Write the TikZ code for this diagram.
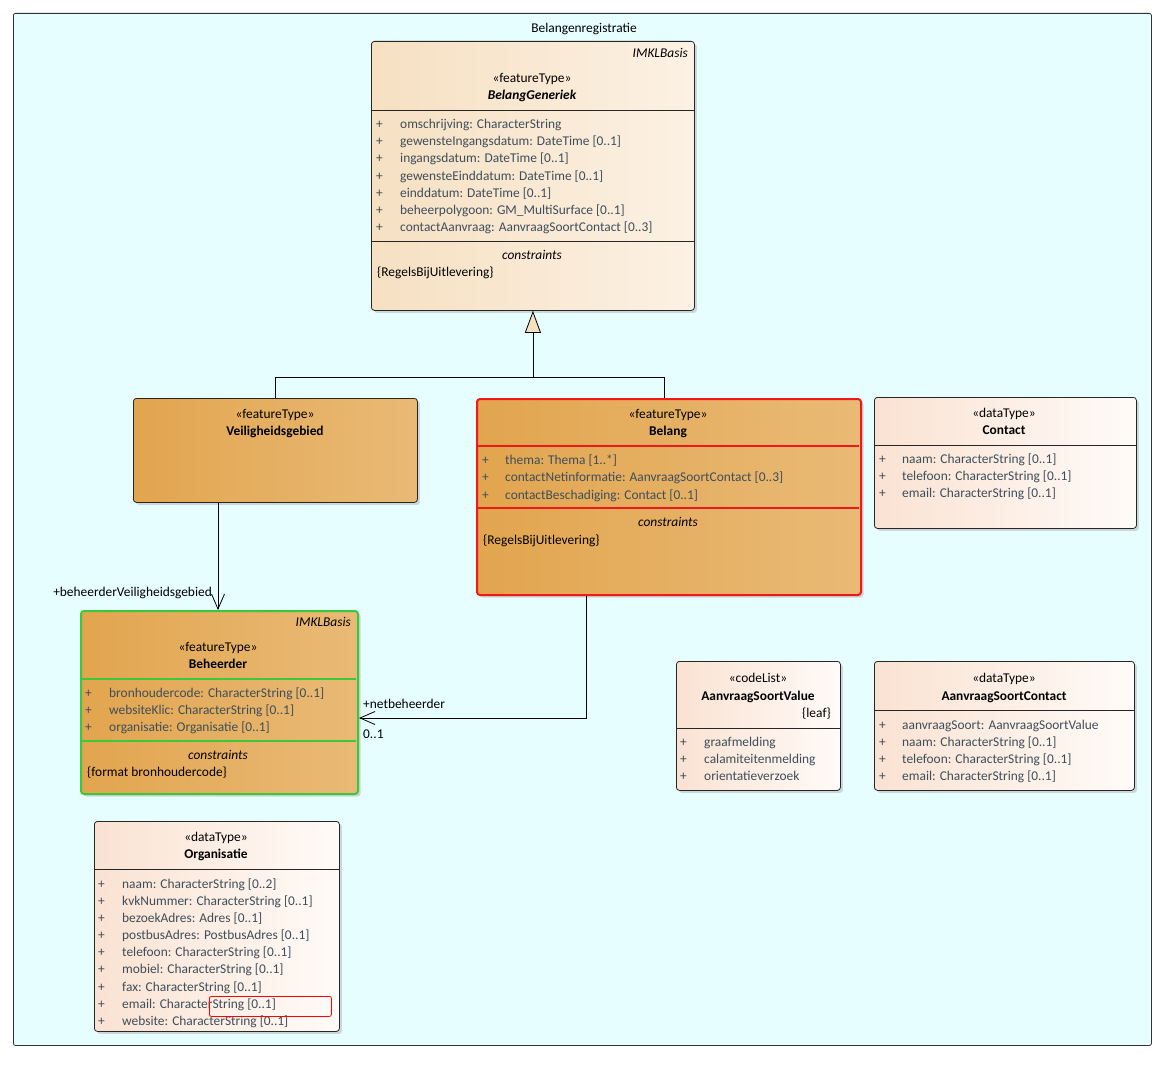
\documentclass[tikz,border=0pt]{standalone}
\usepackage{fontspec}
\setmainfont{Carlito}
\usetikzlibrary{arrows.meta,shadows,calc}
\definecolor{frameC}{HTML}{E6FEFF}
\definecolor{pchL}{HTML}{F6E0C2}
\definecolor{pchR}{HTML}{FCF1E4}
\definecolor{orL}{HTML}{E2A54F}
\definecolor{orR}{HTML}{E9BA76}
\definecolor{dtL}{HTML}{FAE2D2}
\definecolor{dtR}{HTML}{FFFBF8}
\definecolor{attrc}{HTML}{3D4E5A}
\definecolor{redB}{HTML}{F01818}
\definecolor{greenB}{HTML}{3CC83C}
\newcommand\fs{\fontsize{13.4}{15}\selectfont}
\begin{document}
\begin{tikzpicture}[x=1pt,y=-1pt,
  umlbox/.style={draw=black!85, rounded corners=3pt, line width=0.8pt, anchor=north west, inner sep=0pt,
    drop shadow={shadow xshift=2.5pt,shadow yshift=-2.5pt,fill=black!30,opacity=0.5}},
  peach/.style={left color=pchL, right color=pchR},
  orange/.style={left color=orL, right color=orR},
  dtype/.style={left color=dtL, right color=dtR},
  txt/.style={inner sep=0pt, font=\fs, text height=1.6ex, text depth=.35ex, yshift=-1.5pt},
  attr/.style={txt, anchor=west, text=attrc},
  ster/.style={txt, anchor=center},
  cname/.style={txt, anchor=center, font=\fs\bfseries},
  lbl/.style={txt, text=black},
  sep/.style={line width=0.8pt, draw=black!85},
  conn/.style={line width=0.8pt, draw=black},
  openarr/.style={-{Straight Barb[length=15pt,width=13pt,line width=0.8pt]}}
]
\useasboundingbox (0,0) rectangle (1169,1065);
% frame
\node[draw=black!80, fill=frameC, rounded corners=2pt, line width=0.8pt, anchor=north west, inner sep=0pt,
  minimum width=1138pt, minimum height=1032pt] (frame) at (13,13) {};
\node[lbl, anchor=center] (title) at (584,28) {Belangenregistratie};

% BelangGeneriek
\node[umlbox, peach, minimum width=323pt, minimum height=269pt] (bg) at (371,41) {};
\draw[sep] (371,110) -- (694,110);
\draw[sep] (371,241) -- (694,241);
\node[txt, anchor=east, font=\fs\itshape] (bgpkg) at (688,53) {IMKLBasis};
\node[ster] (bgst) at (532,78) {«featureType»};
\node[cname, font=\fs\bfseries\itshape] (bgnm) at (532,95) {BelangGeneriek};
\foreach \t [count=\i from 0] in {omschrijving: CharacterString, gewensteIngangsdatum: DateTime [0..1], ingangsdatum: DateTime [0..1], gewensteEinddatum: DateTime [0..1], einddatum: DateTime [0..1], beheerpolygoon: GM\_MultiSurface [0..1], contactAanvraag: AanvraagSoortContact [0..3]}{
  \node[attr] (bgp\i) at (376,124+17.2*\i) {+};
  \node[attr] (bga\i) at (400,124+17.2*\i) {\t};
}
\node[ster, font=\fs\itshape] (bgcon) at (532,255) {constraints};
\node[txt, anchor=west] (bgc1) at (377,272) {\{RegelsBijUitlevering\}};

% Veiligheidsgebied
\node[umlbox, orange, minimum width=284pt, minimum height=104pt] (vg) at (133,398) {};
\node[ster] (vgst) at (275,414) {«featureType»};
\node[cname] (vgnm) at (275,431) {Veiligheidsgebied};

% Belang
\node[umlbox, orange, draw=redB, line width=2pt, minimum width=384pt, minimum height=196pt] (bel) at (476,398) {};
\draw[line width=2pt, draw=redB] (477,446) -- (859,446);
\draw[line width=2pt, draw=redB] (477,508) -- (859,508);
\node[ster] (belst) at (668,414) {«featureType»};
\node[cname] (belnm) at (668,431) {Belang};
\foreach \t [count=\i from 0] in {thema: Thema [1..*], contactNetinformatie: AanvraagSoortContact [0..3], contactBeschadiging: Contact [0..1]}{
  \node[attr] (belp\i) at (482,460+17.5*\i) {+};
  \node[attr] (bela\i) at (505,460+17.5*\i) {\t};
}
\node[ster, font=\fs\itshape] (belcon) at (668,522) {constraints};
\node[txt, anchor=west] (belc1) at (483,540) {\{RegelsBijUitlevering\}};

% Contact
\node[umlbox, dtype, minimum width=262pt, minimum height=131pt] (con) at (874,397) {};
\draw[sep] (874,445) -- (1136,445);
\node[ster] (const) at (1004,413) {«dataType»};
\node[cname] (connm) at (1004,430) {Contact};
\foreach \t [count=\i from 0] in {naam: CharacterString [0..1], telefoon: CharacterString [0..1], email: CharacterString [0..1]}{
  \node[attr] (conp\i) at (879,459+17.2*\i) {+};
  \node[attr] (cona\i) at (902,459+17.2*\i) {\t};
}

% Beheerder
\node[umlbox, orange, draw=greenB, line width=2pt, minimum width=277pt, minimum height=183pt] (beh) at (80,610) {};
\draw[line width=2pt, draw=greenB] (81,679) -- (356,679);
\draw[line width=2pt, draw=greenB] (81,741) -- (356,741);
\node[txt, anchor=east, font=\fs\itshape] (behpkg) at (351,622) {IMKLBasis};
\node[ster] (behst) at (218,647) {«featureType»};
\node[cname] (behnm) at (218,664) {Beheerder};
\foreach \t [count=\i from 0] in {bronhoudercode: CharacterString [0..1], websiteKlic: CharacterString [0..1], organisatie: Organisatie [0..1]}{
  \node[attr] (behp\i) at (85,693+17.2*\i) {+};
  \node[attr] (beha\i) at (109,693+17.2*\i) {\t};
}
\node[ster, font=\fs\itshape] (behcon) at (218,755) {constraints};
\node[txt, anchor=west] (behc1) at (87,772) {\{format bronhoudercode\}};

% Organisatie
\node[umlbox, dtype, minimum width=245pt, minimum height=210pt] (org) at (94,821) {};
\draw[sep] (94,869) -- (339,869);
\node[ster] (orgst) at (216,837) {«dataType»};
\node[cname] (orgnm) at (216,854) {Organisatie};
\foreach \t [count=\i from 0] in {naam: CharacterString [0..2], kvkNummer: CharacterString [0..1], bezoekAdres: Adres [0..1], postbusAdres: PostbusAdres [0..1], telefoon: CharacterString [0..1], mobiel: CharacterString [0..1], fax: CharacterString [0..1], email: CharacterString [0..1], website: CharacterString [0..1]}{
  \node[attr] (orgp\i) at (98,884+17.1*\i) {+};
  \node[attr] (orga\i) at (122,884+17.1*\i) {\t};
}
\node[draw=red, rounded corners=2pt, line width=0.8pt, anchor=north west, inner sep=0pt,
  minimum width=122pt, minimum height=20pt] (hl) at (209,996) {};

% AanvraagSoortValue
\node[umlbox, dtype, minimum width=164pt, minimum height=129pt] (asv) at (676,661) {};
\draw[sep] (676,728) -- (840,728);
\node[ster] (asvst) at (758,678) {«codeList»};
\node[cname] (asvnm) at (758,696) {AanvraagSoortValue};
\node[txt, anchor=east] (asvleaf) at (831,713) {\{leaf\}};
\foreach \t [count=\i from 0] in {graafmelding, calamiteitenmelding, orientatieverzoek}{
  \node[attr] (asvp\i) at (680,742+17*\i) {+};
  \node[attr] (asva\i) at (704,742+17*\i) {\t};
}

% AanvraagSoortContact
\node[umlbox, dtype, minimum width=260pt, minimum height=129pt] (asc) at (874,661) {};
\draw[sep] (874,710) -- (1134,710);
\node[ster] (ascst) at (1004,678) {«dataType»};
\node[cname] (ascnm) at (1004,696) {AanvraagSoortContact};
\foreach \t [count=\i from 0] in {aanvraagSoort: AanvraagSoortValue, naam: CharacterString [0..1], telefoon: CharacterString [0..1], email: CharacterString [0..1]}{
  \node[attr] (ascp\i) at (879,725+17*\i) {+};
  \node[attr] (asca\i) at (902,725+17*\i) {\t};
}

% generalization
\coordinate (gj) at ([yshift=-67pt]bg.south);
\draw[conn] (vg.north) |- (gj);
\draw[conn] ([xshift=188pt]bel.north west) |- (gj);
\draw[conn, -{Triangle[length=22pt,width=16pt,fill=pchL,line width=0.8pt]}] (gj) -- (bg.south);

% associations
\draw[conn, openarr] ([xshift=85pt]vg.south west) -- ([xshift=138pt]beh.north west);
\node[lbl, anchor=east] (l1) at (212,592) {+beheerderVeiligheidsgebied};
\draw[conn, openarr] ([xshift=110pt]bel.south west) |- ([yshift=-108pt]beh.north east);
\node[lbl, anchor=west] (l2) at (363,704) {+netbeheerder};
\node[lbl, anchor=west] (l3) at (363,734) {0..1};
\end{tikzpicture}
\end{document}
